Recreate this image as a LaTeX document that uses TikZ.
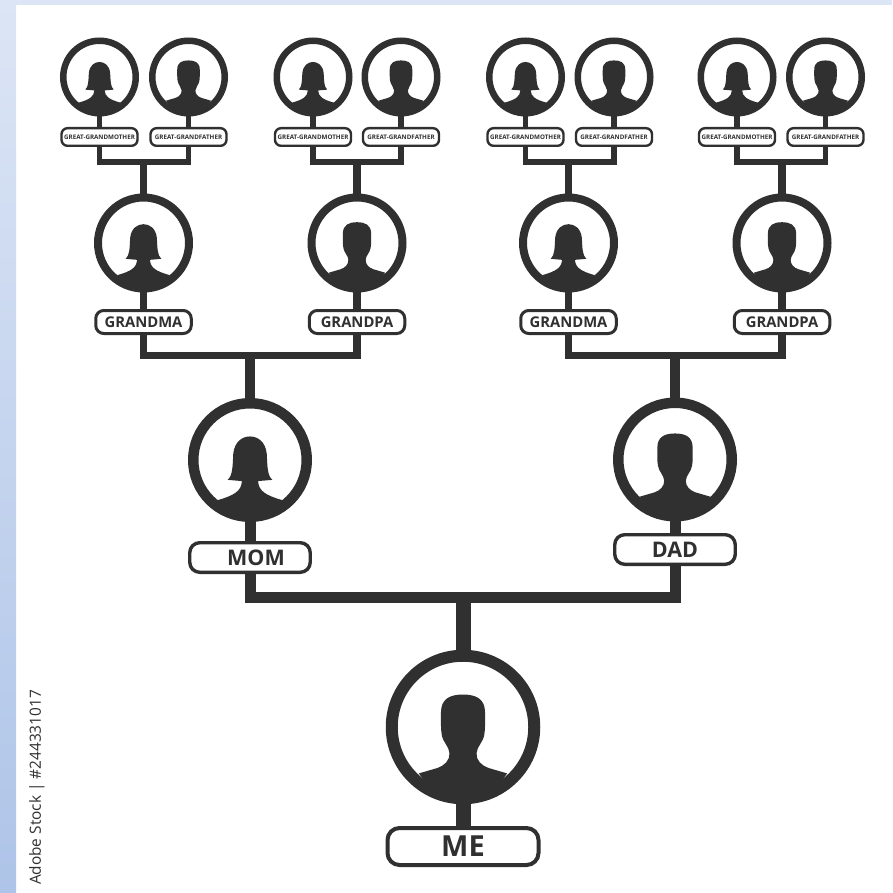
\documentclass[tikz,border=0pt]{standalone}
\usepackage{fontspec}
\setmainfont{Open Sans}
\usetikzlibrary{backgrounds}
\definecolor{ink}{HTML}{303030}
\definecolor{stripA}{HTML}{DCE5F5}
\definecolor{stripB}{HTML}{AEC4E8}
\tikzset{
  ring/.style={draw=ink,circle,inner sep=0pt,outer sep=0pt},
  tag/.style={draw=ink,fill=white,rounded corners=#1,inner sep=0pt,outer sep=0pt,
    text=ink,font=\bfseries,align=center},
  pics/woman/.style={code={
    \fill[ink] (-0.36,0.32) .. controls (-0.28,0.25) and (-0.28,0.1) .. (-0.27,-0.1)
      .. controls (-0.25,-0.3) and (-0.12,-0.38) .. (0,-0.38)
      .. controls (0.12,-0.38) and (0.25,-0.3) .. (0.27,-0.1)
      .. controls (0.28,0.1) and (0.28,0.25) .. (0.36,0.32)
      -- (0.13,0.34) .. controls (0.14,0.5) and (0.25,0.57) .. (0.53,0.65)
      .. controls (0.35,0.95) and (-0.35,0.95) .. (-0.53,0.65)
      .. controls (-0.25,0.57) and (-0.14,0.5) .. (-0.13,0.34) -- cycle;}},
  pics/man/.style={code={
    \fill[ink] (0,-0.42) .. controls (0.16,-0.42) and (0.285,-0.37) .. (0.285,-0.19)
      .. controls (0.285,-0.08) and (0.29,0.02) .. (0.275,0.1)
      .. controls (0.26,0.2) and (0.18,0.25) .. (0.175,0.34)
      .. controls (0.17,0.43) and (0.24,0.5) .. (0.33,0.53) -- (0.57,0.6)
      .. controls (0.35,0.95) and (-0.35,0.95) .. (-0.57,0.6)
      -- (-0.33,0.53) .. controls (-0.24,0.5) and (-0.17,0.43) .. (-0.175,0.34)
      .. controls (-0.18,0.25) and (-0.26,0.2) .. (-0.275,0.1)
      .. controls (-0.29,0.02) and (-0.285,-0.08) .. (-0.285,-0.19)
      .. controls (-0.285,-0.37) and (-0.16,-0.42) .. (0,-0.42) -- cycle;}},
  ggring/.style={ring,line width=6.5pt,minimum size=72.5pt},
  gring/.style={ring,line width=8pt,minimum size=91pt},
  pring/.style={ring,line width=10.5pt,minimum size=113.5pt},
  mering/.style={ring,line width=12pt,minimum size=142.5pt},
  ggtag/.style={tag=6pt,line width=2.4pt,minimum width=76pt,minimum height=17.6pt,font=\bfseries\fontsize{6.25}{7}\selectfont},
  gtag/.style={tag=8pt,line width=3pt,minimum width=95.5pt,minimum height=23pt,font=\bfseries\fontsize{14.8}{16}\selectfont},
  ptag/.style={tag=10pt,line width=3.4pt,minimum width=120.5pt,minimum height=29.6pt,font=\bfseries\fontsize{21.5}{24}\selectfont},
  ggline/.style={draw=ink,line width=5.5pt},
  gline/.style={draw=ink,line width=7.5pt},
  pline/.style={draw=ink,line width=11pt},
  meline/.style={draw=ink,line width=15pt}
}
\begin{document}
\begin{tikzpicture}[x=1pt,y=-1pt]
  \useasboundingbox (0,0) rectangle (892,893);
  \begin{pgfonlayer}{background}
    \fill[white] (0,0) rectangle (892,893);
    \fill[stripA] (0,0) rectangle (892,5);
    \shade[top color=stripA,bottom color=stripB] (0,0) rectangle (16,893);
  \end{pgfonlayer}
  \node[rotate=90,text=ink,font=\fontsize{15.4}{18}\selectfont] (stock) at (37,787.5) {Adobe Stock | \#244331017};

  % great-grandparents, grandparents, one block per grandparent
  \foreach \g/\gx/\gkind/\gtext/\ax/\bx in {a/143.5/woman/GRANDMA/99.5/188.5,
      b/357/man/GRANDPA/313/401,
      c/568.5/woman/GRANDMA/525.5/614,
      d/782/man/GRANDPA/737/825.5}{
    \node[gring] (\g) at (\gx,243) {};
    \pic[scale=49.5] at (\g) {\gkind};
    \node[gtag] (\g tag) at (\gx,322) {\gtext};
    \node[ggring] (\g1) at (\ax,77) {};
    \pic[scale=39.5] at (\g1) {woman};
    \node[ggtag] (\g1tag) at (\ax,137) {GREAT-GRANDMOTHER};
    \node[ggring] (\g2) at (\bx,77) {};
    \pic[scale=39.5] at (\g2) {man};
    \node[ggtag] (\g2tag) at (\bx,137) {GREAT-GRANDFATHER};
    \coordinate (\g join) at (\gx,162);
    \begin{pgfonlayer}{background}
      \draw[ggline] (\g1.south) |- (\g join) -| (\g2.south);
      \draw[gline] (\g join) -- (\g.north);
    \end{pgfonlayer}
  }

  % parents
  \node[pring] (mom) at (250,460) {};
  \pic[scale=62] at (mom) {woman};
  \node[ptag] (momtag) at (250,557.5) {\hspace*{12pt}MOM};
  \node[pring] (dad) at (675,459.5) {};
  \pic[scale=62] at (dad) {man};
  \node[ptag] (dadtag) at (675,549.5) {DAD};

  % me
  \node[mering] (me) at (463,727) {};
  \pic[scale=77.3] at (me) {man};
  \node[tag=12pt,line width=4pt,minimum width=151pt,minimum height=37pt,font=\bfseries\fontsize{29}{32}\selectfont] (metag) at (463,846.5) {ME};

  \coordinate (momjoin) at (250,355.5);
  \coordinate (dadjoin) at (675,355.5);
  \coordinate (mejoin) at (463,597);
  \begin{pgfonlayer}{background}
    \draw[gline] (a.south) |- (momjoin) -| (b.south);
    \draw[gline] (c.south) |- (dadjoin) -| (d.south);
    \draw[draw=ink,line width=10pt] (momjoin) -- (mom.north);
    \draw[draw=ink,line width=10pt] (dadjoin) -- (dad.north);
    \draw[pline] (mom.south) |- (mejoin) -| (dad.south);
    \draw[meline] (mejoin) -- (me.north);
    \draw[meline] (me.south) -- (metag.north);
  \end{pgfonlayer}
\end{tikzpicture}
\end{document}
